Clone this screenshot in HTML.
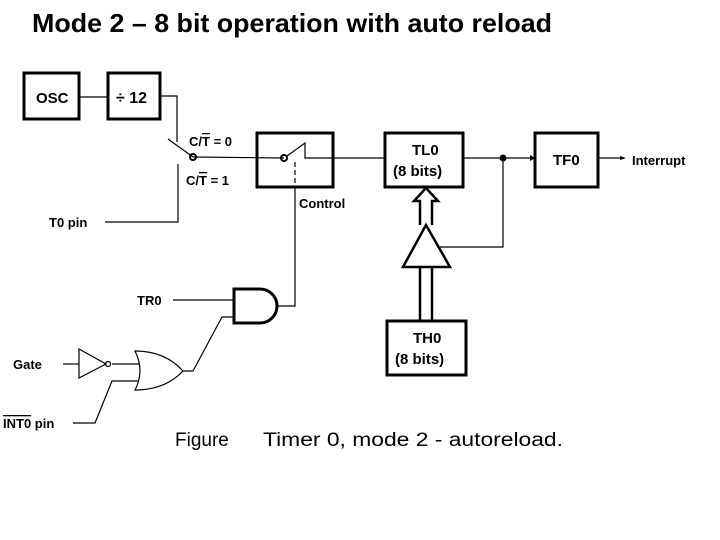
<!DOCTYPE html>
<html><head><meta charset="utf-8"><style>
html,body{margin:0;padding:0;background:#fff;}
svg{display:block;}
text{font-family:"Liberation Sans",sans-serif;fill:#000;}
.ol{text-decoration:overline;}
</style></head><body>
<svg width="720" height="540" viewBox="0 0 720 540" xmlns="http://www.w3.org/2000/svg">
<text x="32" y="32" font-size="26" font-weight="bold" textLength="520" lengthAdjust="spacingAndGlyphs">Mode 2 – 8 bit operation with auto reload</text>
<g fill="none" stroke="#000">
<rect x="24" y="73" width="55" height="46" stroke-width="3"/>
<rect x="108" y="73" width="52" height="46" stroke-width="3"/>
<rect x="257" y="133" width="76" height="54" stroke-width="3"/>
<rect x="385" y="133" width="78" height="54" stroke-width="3"/>
<rect x="535" y="133" width="63" height="54" stroke-width="3"/>
<rect x="387" y="321" width="79" height="54" stroke-width="3"/>
<g stroke-width="1.2">
<line x1="79" y1="97" x2="108" y2="97"/>
<polyline points="160,96 177,96 177,142"/>
<line x1="168" y1="139" x2="193" y2="157"/>
<polyline points="105,222 178,222 178,164"/>
<line x1="193" y1="157" x2="284" y2="158"/>
<polyline points="287,156 305,143 305,158 385,158"/>
<line x1="295" y1="162" x2="295" y2="187" stroke-dasharray="5,3"/>
<polyline points="295,187 295,306 277,306"/>
<line x1="463" y1="158" x2="530" y2="158"/>
<line x1="598" y1="158" x2="622" y2="158"/>
<polyline points="503,160 503,247 440,247"/>
<line x1="173" y1="300" x2="233" y2="300"/>
<polyline points="233,317 222,317 193,371 183,371"/>
<line x1="63" y1="364" x2="79" y2="364"/>
<line x1="112" y1="364" x2="139" y2="364"/>
<polyline points="73,423 95,423 112,381 139,381"/>
</g>
<circle cx="193" cy="157" r="3" stroke-width="2"/>
<circle cx="284" cy="158" r="3" stroke-width="2"/>
<circle cx="108" cy="364" r="2.5" stroke-width="1.2"/>
<path d="M420,225 V201 H414 L426,188 L438,201 H432 V225" stroke-width="2.5"/>
<line x1="420" y1="267" x2="420" y2="321" stroke-width="2.5"/>
<line x1="432" y1="267" x2="432" y2="321" stroke-width="2.5"/>
<polygon points="426,225 403,267 450,267" stroke-width="2.5" fill="#fff"/>
<path d="M234,289 H260 A17,17 0 0 1 260,323 H234 Z" stroke-width="3"/>
<polygon points="79,349 79,378 106,364" stroke-width="1.2"/>
<path d="M135,351 Q165,351 183,371 Q165,390 135,390 Q145,371 135,351 Z" stroke-width="1.2"/>
</g>
<circle cx="503" cy="158" r="3.5" fill="#000"/>
<polygon points="530,155 535,158 530,161" fill="#000"/>
<polygon points="620,156 626,158 620,160" fill="#000"/>
<g font-weight="bold" font-size="14">
<text x="36" y="103" font-size="15">OSC</text>
<text x="116" y="103" font-size="16">÷ 12</text>
<text x="189" y="146" font-size="13">C/<tspan class="ol">T</tspan> = 0</text>
<text x="186" y="185" font-size="13">C/<tspan class="ol">T</tspan> = 1</text>
<text x="299" y="208" font-size="13">Control</text>
<text x="49" y="227" font-size="13">T0 pin</text>
<text x="412" y="155" font-size="15">TL0</text>
<text x="393" y="176" font-size="15">(8 bits)</text>
<text x="553" y="165" font-size="15">TF0</text>
<text x="632" y="165" font-size="13">Interrupt</text>
<text x="137" y="305" font-size="13">TR0</text>
<text x="413" y="343" font-size="15">TH0</text>
<text x="395" y="364" font-size="15">(8 bits)</text>
<text x="13" y="369" font-size="13">Gate</text>
<text x="3" y="428" font-size="13"><tspan class="ol">INT0</tspan> pin</text>
</g>
<text x="175" y="446" font-size="19">Figure</text>
<text x="263" y="446" font-size="19" textLength="300" lengthAdjust="spacingAndGlyphs">Timer 0,  mode 2 - autoreload.</text>
</svg>
</body></html>
